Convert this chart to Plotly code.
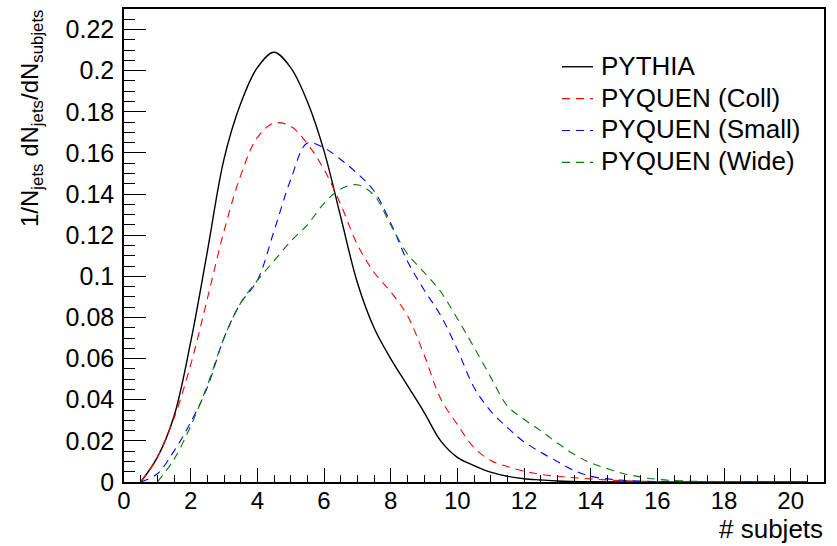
import plotly.graph_objects as go

# ---- data ----
x_pythia = [0.5, 1, 1.5, 2, 2.5, 3, 3.5, 4, 4.5, 5, 5.5, 6, 6.5, 7, 7.5, 8, 8.5, 9, 9.5, 10,
            10.5, 11, 11.5, 12, 12.5, 13, 14, 15, 16, 17, 18, 19, 20, 20.5]
y_pythia = [0.0, 0.012, 0.032, 0.068, 0.112, 0.157, 0.184, 0.2015, 0.209, 0.2015, 0.185, 0.161,
            0.129, 0.097, 0.075, 0.060, 0.047, 0.034, 0.020, 0.012, 0.008, 0.0048, 0.0028, 0.0016,
            0.001, 0.0005, 0.0001, 0.0, 0.0, 0.0, 0.0, 0.0, 0.0, 0.0]

x_coll = [0.5, 1, 1.5, 2, 2.5, 3, 3.5, 4, 4.5, 5, 5.5, 6, 6.5, 7, 7.5, 8, 8.5, 9, 9.5, 10,
          10.5, 11, 11.5, 12, 12.5, 13, 13.5, 14, 14.5, 15, 16, 17, 18, 19, 20, 20.5]
y_coll = [0.0, 0.012, 0.031, 0.057, 0.089, 0.122, 0.149, 0.1675, 0.1745, 0.173, 0.1645, 0.152,
          0.135, 0.1155, 0.102, 0.0925, 0.081, 0.062, 0.0405, 0.028, 0.0167, 0.0105, 0.0075, 0.0053,
          0.0037, 0.0028, 0.0021, 0.0015, 0.001, 0.0006, 0.0002, 0.0, 0.0, 0.0, 0.0, 0.0]

x_small = [0.5, 1, 1.5, 2, 2.5, 3, 3.5, 4, 4.5, 5, 5.5, 6, 6.5, 7, 7.5, 8, 8.5, 9, 9.5, 10,
           10.5, 11, 11.5, 12, 12.5, 13, 13.5, 14, 14.5, 15, 16, 17, 18, 19, 20, 20.5]
y_small = [0.0, 0.004, 0.015, 0.029, 0.046, 0.070, 0.087, 0.098, 0.122, 0.147, 0.1648, 0.1625,
           0.1568, 0.150, 0.1415, 0.126, 0.1075, 0.0935, 0.081, 0.0645, 0.046, 0.0345, 0.0265, 0.0195,
           0.0145, 0.010, 0.0056, 0.0028, 0.0015, 0.0008, 0.0002, 0.0, 0.0, 0.0, 0.0, 0.0]

x_wide = [1, 1.5, 2, 2.5, 3, 3.5, 4, 4.5, 5, 5.5, 6, 6.5, 7, 7.5, 8, 8.5, 9, 9.5, 10,
          10.5, 11, 11.5, 12, 12.5, 13, 13.5, 14, 14.5, 15, 15.5, 16, 17, 18, 19, 20, 20.5]
y_wide = [0.0, 0.011, 0.0272, 0.047, 0.070, 0.087, 0.098, 0.1075, 0.117, 0.125, 0.1355, 0.1425,
          0.1445, 0.1395, 0.125, 0.111, 0.102, 0.0925, 0.0795, 0.0655, 0.051, 0.037, 0.0305, 0.025,
          0.019, 0.0135, 0.0093, 0.0065, 0.004, 0.0025, 0.0013, 0.0004, 0.0001, 0.0, 0.0, 0.0]

names = ["PYTHIA", "PYQUEN (Coll)", "PYQUEN (Small)", "PYQUEN (Wide)"]
colors = ["#000000", "#ff0000", "#0000ff", "#007a00"]
dashes = ["solid", "8px,6px", "8px,6px", "8px,6px"]
widths = [1.4, 1.1, 1.1, 1.1]

FONT = "Liberation Sans, Arial, Helvetica, sans-serif"

W, H = 837, 546
L, R, T, B = 124, 13, 7, 64
pw, ph = W - L - R, H - T - B

def px2paper_x(px):
    return (px - L) / pw

def px2paper_y(py):
    return (H - B - py) / ph

fig = go.Figure()
series = [(x_pythia, y_pythia), (x_coll, y_coll), (x_small, y_small), (x_wide, y_wide)]
for (xs, ys), nm, col, dsh, wd in zip(series, names, colors, dashes, widths):
    fig.add_trace(go.Scatter(
        x=xs, y=ys, name=nm, mode="lines", showlegend=False,
        line=dict(color=col, width=wd, dash=dsh, shape="spline", smoothing=1.0),
    ))

# legend drawn as text + key lines (ROOT-like compact spacing)
annotations = []
shapes = []
row0, rowgap = 64, 32
for i, (nm, col, dsh, wd) in enumerate(zip(names, colors, dashes, widths)):
    yc = row0 + i * rowgap
    annotations.append(dict(
        text=nm, xref="paper", yref="paper",
        x=px2paper_x(599), y=px2paper_y(yc), xanchor="left", yanchor="middle",
        showarrow=False, font=dict(size=26, family=FONT, color="black")))
    shapes.append(dict(
        type="line", xref="paper", yref="paper",
        x0=px2paper_x(562), x1=px2paper_x(593),
        y0=px2paper_y(yc + 1), y1=px2paper_y(yc + 1),
        line=dict(color=col, width=wd, dash=dsh)))

annotations += [
    dict(text="1/N<sub>jets</sub> dN<sub>jets</sub>/dN<sub>subjets</sub>",
         textangle=-90, xref="paper", yref="paper",
         x=px2paper_x(31), y=px2paper_y(5), xanchor="center", yanchor="top",
         showarrow=False, font=dict(size=24, family=FONT, color="black")),
    dict(text="# subjets", xref="paper", yref="paper",
         x=px2paper_x(825), y=px2paper_y(529), xanchor="right", yanchor="middle",
         showarrow=False, font=dict(size=26, family=FONT, color="black")),
]

fig.update_layout(
    width=W, height=H,
    margin=dict(l=L, r=R, t=T, b=B, pad=0),
    paper_bgcolor="white", plot_bgcolor="white",
    font=dict(family=FONT, color="black"),
    showlegend=False,
    xaxis=dict(
        range=[0, 21], showgrid=False, zeroline=False,
        showline=True, linecolor="black", linewidth=1.5, mirror=True,
        ticks="inside", ticklen=14, tickwidth=1, tickcolor="black",
        dtick=2, tick0=0,
        minor=dict(ticks="inside", ticklen=7, dtick=0.5, tickcolor="black", tickwidth=1),
        tickfont=dict(size=24, family=FONT, color="black"),
        ticklabelstandoff=-4,
    ),
    yaxis=dict(
        range=[0, 0.23], showgrid=False, zeroline=False,
        showline=True, linecolor="black", linewidth=1.5, mirror=True,
        ticks="inside", ticklen=22, tickwidth=1, tickcolor="black",
        dtick=0.02, tick0=0,
        minor=dict(ticks="inside", ticklen=11, dtick=0.005, tickcolor="black", tickwidth=1),
        tickfont=dict(size=25, family=FONT, color="black"),
        ticklabelstandoff=3,
    ),
    annotations=annotations,
    shapes=shapes,
)

fig.write_html("out.html")
